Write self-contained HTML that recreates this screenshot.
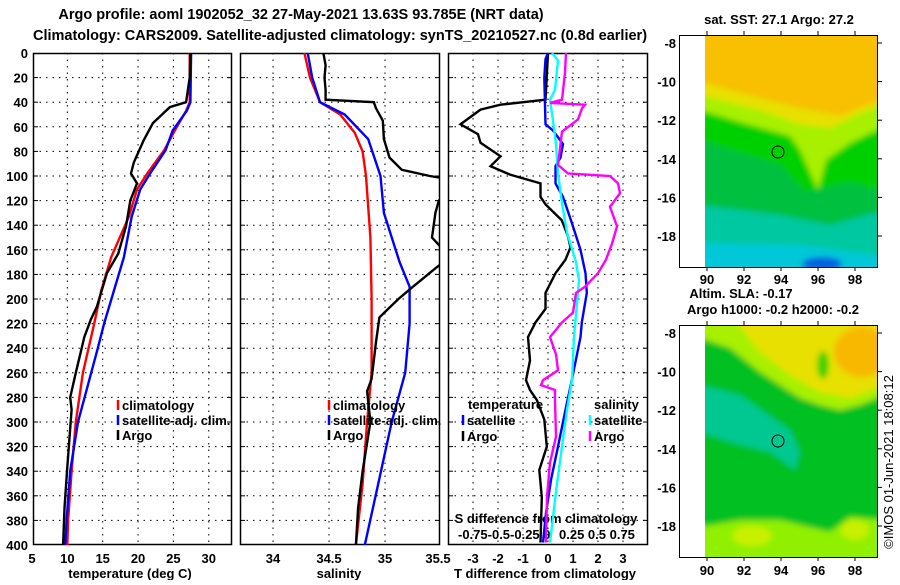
<!DOCTYPE html>
<html><head><meta charset="utf-8"><style>
body{margin:0;background:#fff}
svg text{font-family:"Liberation Sans",Arial,sans-serif;font-weight:bold;font-size:13px;fill:#000}
</style></head><body>
<svg id="c" width="900" height="580" viewBox="0 0 900 580" xmlns="http://www.w3.org/2000/svg">
<text x="301" y="19" text-anchor="middle" style="font-size:14.5px">Argo profile: aoml 1902052_32 27-May-2021 13.63S 93.785E (NRT data)</text>
<text x="340" y="40" text-anchor="middle" style="font-size:14.5px">Climatology: CARS2009. Satellite-adjusted climatology: synTS_20210527.nc (0.8d earlier)</text>
<g id="panels"></g>
<g id="maps">
 <defs>
  <clipPath id="m1"><rect x="705" y="35" width="173" height="232"/></clipPath>
  <clipPath id="m2"><rect x="705" y="325" width="173" height="232"/></clipPath>
  <filter id="bl"><feGaussianBlur stdDeviation="3"/></filter>
 </defs>
 <text x="779" y="24" text-anchor="middle">sat. SST: 27.1 Argo: 27.2</text>
 <g clip-path="url(#m1)"><g filter="url(#bl)">
  <rect x="700" y="30" width="185" height="245" fill="#f8c000"/>
  <polygon points="700,82 760,98 800,108 840,116 885,98 885,275 700,275" fill="#e8e000"/>
  <polygon points="700,95 760,110 800,124 830,128 860,113 885,103 885,275 700,275" fill="#a8f000"/>
  <polygon points="700,110 740,122 790,136 800,150 810,172 818,190 826,160 850,143 885,126 885,275 700,275" fill="#00d000"/>
  <polygon points="700,140 780,165 805,192 850,182 885,192 885,275 700,275" fill="#00c040"/>
  <polygon points="700,205 780,215 830,225 885,210 885,275 700,275" fill="#00c8a0"/>
  <polygon points="700,243 800,245 885,256 885,275 700,275" fill="#00c8d8"/>
  <ellipse cx="822" cy="264" rx="20" ry="7" fill="#0060e0"/>
 </g></g>
 <circle cx="778" cy="152" r="6" fill="none" stroke="#000"/>
 <rect x="679.5" y="35.5" width="198" height="232" fill="none" stroke="#000"/>
 <text x="741" y="298" text-anchor="middle">Altim. SLA: -0.17</text>
 <text x="773" y="314" text-anchor="middle">Argo h1000: -0.2 h2000: -0.2</text>
 <g clip-path="url(#m2)"><g filter="url(#bl)">
  <rect x="700" y="320" width="185" height="245" fill="#00c020"/>
  <polygon points="700,320 885,320 885,395 860,405 840,410 820,405 800,398 760,372 730,348 700,338" fill="#a8f000"/>
  <polygon points="735,320 885,320 885,385 850,398 820,392 790,375 760,352" fill="#e8e000"/>
  <ellipse cx="862" cy="352" rx="28" ry="25" fill="#f8b800"/>
  <ellipse cx="823" cy="365" rx="6" ry="14" fill="#40d000"/>
  <polygon points="700,385 740,395 790,430 800,452 795,470 770,452 730,442 700,432" fill="#00c890"/>
  <polygon points="700,527 740,520 780,520 830,532 850,517 885,520 885,565 700,565" fill="#90f000"/>
  <ellipse cx="752" cy="536" rx="20" ry="10" fill="#c8f000"/>
  <ellipse cx="855" cy="530" rx="14" ry="10" fill="#c8f000"/>
 </g></g>
 <circle cx="778" cy="441" r="6" fill="none" stroke="#000"/>
 <rect x="679.5" y="325.5" width="198" height="232" fill="none" stroke="#000"/>
 <text transform="translate(893,462) rotate(-90)" text-anchor="middle" style="font-weight:normal" font-size="13">©IMOS 01-Jun-2021 18:08:12</text>
</g>
<g id="mapaxes"></g>
</svg>
<script>
// ---- data (depth dbar, value) ----
const clmT_d=[0,40,47,63,79,98,111,133,166,193,220,260,300,340,380,400];
const clmT_v=[27.3,27.3,26.8,25.2,23.7,21.3,19.85,18.7,16.2,14.8,13.8,12.2,11.2,10.6,10.1,10.0];
const satT_d=[0,40,47,63,79,98,111,133,166,193,220,240,300,340,380,400];
const satT_v=[27.5,27.4,26.9,24.9,23.9,21.7,20.3,19.1,18.0,16.6,15.2,14.3,11.5,10.4,9.9,9.7];
const argT_d=[0,20,40,44,57,71,89,98,106,120,141,163,179,206,217,231,260,280,290,340,370,400];
const argT_v=[27.4,27.3,26.8,24.5,22.1,20.8,19.4,19.0,19.85,18.9,18.3,17.2,15.6,14.2,13.3,12.4,11.2,10.4,10.6,9.95,9.6,9.4];
const clmS_d=[0,20,40,50,65,80,100,150,200,260,300,350,400];
const clmS_v=[34.28,34.33,34.42,34.6,34.73,34.8,34.83,34.87,34.88,34.88,34.84,34.8,34.74];
const satS_d=[0,20,40,50,70,100,130,170,190,220,260,300,350,400];
const satS_v=[34.31,34.35,34.42,34.64,34.85,34.96,34.99,35.13,35.22,35.22,35.18,35.06,34.94,34.82];
const argS_d=[0,10,20,30,38,40,45,55,70,85,95,100,103,110,120,130,150,158,165,175,190,200,215,235,265,275,300,340,370,400];
const argS_v=[34.45,34.47,34.46,34.47,34.47,34.9,34.92,34.98,34.99,35.04,35.15,35.4,35.6,35.6,35.48,35.45,35.42,35.5,35.6,35.45,35.25,35.12,34.95,34.92,34.88,34.84,34.87,34.8,34.76,34.74];
const dT_sat_d=[0,5,20,58,63,74,85,92,106,117,138,160,179,195,219,231,266,290,320,347,374,398];
const dT_sat_v=[0,-0.1,-0.15,-0.1,0.2,0.6,0.5,0.3,0.3,0.6,0.95,1.3,1.5,1.55,1.35,1.3,0.95,0.7,0.4,0.12,-0.08,-0.2];
const dT_arg_d=[0,38,42,46,58,66,73,84,92,99,106,117,123,136,149,158,168,179,195,208,219,231,250,266,274,282,298,320,339,361,398];
const dT_arg_v=[0,-0.1,-1.9,-2.7,-3.5,-2.8,-2.7,-1.9,-2.3,-1.5,-0.3,-0.3,-0.1,0.55,0.8,0.9,0.7,0.3,-0.1,-0.1,-0.5,-0.8,-0.72,-0.88,-0.72,-0.45,-0.15,-0.05,-0.35,-0.25,-0.3];
const dS_sat_d=[0,6,30,38,55,74,98,122,146,170,185,231,266,290,320,350,398];
const dS_sat_v=[0.04,0.1,0.07,0.02,0.05,0.08,0.1,0.14,0.19,0.28,0.31,0.26,0.24,0.19,0.14,0.09,0.02];
const dS_arg_d=[0,16,38,40.6,42,45,54,64,91,98,100,106,114,125,141,155,168,179,190,195,211,219,231,245,258,266,270,274,282,312,333,361,398];
const dS_arg_v=[0.18,0.17,0.14,0.02,0.37,0.34,0.3,0.14,0.1,0.2,0.62,0.7,0.72,0.62,0.69,0.64,0.58,0.5,0.37,0.28,0.25,0.14,0.02,0.08,0.1,-0.05,-0.07,0.07,0.07,0.08,0.02,-0.01,-0.02];
const depthTicks=[0,20,40,60,80,100,120,140,160,180,200,220,240,260,280,300,320,340,360,380,400];
const tTicks=[5,10,15,20,25,30];
const sTicks=[34,34.5,35,35.5];
const dTTicks=[-3,-2,-1,0,1,2,3];
const dSTickLabels=["-0.75","-0.5","-0.25","0","0.25","0.5","0.75"];

const NS='http://www.w3.org/2000/svg';
const root=document.getElementById('panels');
function el(tag,attrs,parent,txt){const e=document.createElementNS(NS,tag);for(const k in attrs)e.setAttribute(k,attrs[k]);if(txt!==undefined)e.textContent=txt;(parent||root).appendChild(e);return e;}
const Y0=53,Y1=545;
const yD=d=>Y0+(d/400)*(Y1-Y0);
const xT=t=>32+(t-5)*7.07;
const xS=s=>273+(s-34)*112;
const xDT=t=>548+25*t;
const xDS=s=>548+100*s;

function panel(name,x0,x1,xTickPos){
  const g=el('g',{});
  
  
  const cp=el('clipPath',{id:'cp-'+name},g);el('rect',{x:x0,y:Y0,width:x1-x0,height:Y1-Y0},cp);
  depthTicks.forEach(d=>{if(d>0&&d<400){const l=el('line',{x1:x0,x2:x1,y1:yD(d),y2:yD(d),stroke:'#000','stroke-dasharray':'1.5,5'},g);
    
    
    el('line',{x1:x1-5,x2:x1,y1:yD(d),y2:yD(d),stroke:'#000'},g);el('line',{x1:x0,x2:x0+5,y1:yD(d),y2:yD(d),stroke:'#000'},g);}});
  xTickPos.forEach(x=>{if(x>x0+2&&x<x1-2){const l=el('line',{x1:x,x2:x,y1:Y0,y2:Y1,stroke:'#000','stroke-dasharray':'1.5,5'},g);
    
    }});
  const f=el('rect',{x:x0+0.5,y:Y0+0.5,width:x1-x0-1,height:Y1-Y0-1,fill:'none',stroke:'#000','stroke-width':1.5},g);
  
  
  return g;
}
function line(g,name,ds,vs,xf,color,clipId){
  let p=ds.map((d,i)=>xf(vs[i]).toFixed(1)+','+yD(d).toFixed(1)).join(' ');
  const l=el('polyline',{points:p,fill:'none',stroke:color,'stroke-width':2.4,'clip-path':'url(#'+clipId+')'},g);
  
  
}
function legend(g,x,y,color,label,name){
  const m=el('line',{x1:x,x2:x,y1:y-10,y2:y,stroke:color,'stroke-width':2.5},g);
  
  
  const t=el('text',{x:x+4,y:y},g,label);
  
  
}
// Panel 1
const g1=panel('temperature-panel',33,232,tTicks.map(xT));
depthTicks.forEach(d=>{const t=el('text',{x:28,y:yD(d)+5,'text-anchor':'end'},g1,String(d));
  
  });
tTicks.forEach(v=>{const t=el('text',{x:xT(v),y:563,'text-anchor':'middle'},g1,String(v));
  
  });
{const t=el('text',{x:130,y:578,'text-anchor':'middle'},g1,'temperature (deg C)');
  
  }
line(g1,'climatology-temperature-line',clmT_d,clmT_v,xT,'#f00','cp-temperature-panel');
line(g1,'satellite-temperature-line',satT_d,satT_v,xT,'#00f','cp-temperature-panel');
line(g1,'argo-temperature-line',argT_d,argT_v,xT,'#000','cp-temperature-panel');
legend(g1,118,410,'#f00','climatology','legend-climatology');
legend(g1,118,425,'#00f','satellite-adj. clim.','legend-satellite');
legend(g1,118,440,'#000','Argo','legend-argo');
// Panel 2
const g2=panel('salinity-panel',240,440,sTicks.map(xS));
sTicks.forEach(v=>{const t=el('text',{x:Math.min(xS(v),438),y:563,'text-anchor':'middle'},g2,String(v));
  
  });
{const t=el('text',{x:339,y:578,'text-anchor':'middle'},g2,'salinity');
  
  }
line(g2,'climatology-salinity-line',clmS_d,clmS_v,xS,'#f00','cp-salinity-panel');
line(g2,'satellite-salinity-line',satS_d,satS_v,xS,'#00f','cp-salinity-panel');
line(g2,'argo-salinity-line',argS_d,argS_v,xS,'#000','cp-salinity-panel');
legend(g2,329,410,'#f00','climatology','legend-climatology-s');
legend(g2,329,425,'#00f','satellite-adj. clim.','legend-satellite-s');
legend(g2,329,440,'#000','Argo','legend-argo-s');
// Panel 3
const g3=panel('difference-panel',448,648,dTTicks.map(xDT));
dTTicks.forEach(v=>{const t=el('text',{x:xDT(v),y:563,'text-anchor':'middle'},g3,String(v));
  
  });
{const t=el('text',{x:545,y:578,'text-anchor':'middle'},g3,'T difference from climatology');
  
  }
{const t=el('text',{x:546,y:523,'text-anchor':'middle'},g3,'S difference from climatology');
  
  }
{const t=el('text',{x:458,y:539},g3,dSTickLabels.slice(0,3).join('')+' '+dSTickLabels[3]);
  
  
 const t2=el('text',{x:559,y:539},g3,dSTickLabels.slice(4).join(' '));
  
  }
line(g3,'argo-t-diff-line',dT_arg_d,dT_arg_v,xDT,'#000','cp-difference-panel');
line(g3,'satellite-t-diff-line',dT_sat_d,dT_sat_v,xDT,'#00f','cp-difference-panel');
line(g3,'satellite-s-diff-line',dS_sat_d,dS_sat_v,xDS,'#0ff','cp-difference-panel');
line(g3,'argo-s-diff-line',dS_arg_d,dS_arg_v,xDS,'#f0f','cp-difference-panel');
{const t=el('text',{x:468,y:409},g3,'temperature');}
{const t=el('text',{x:594,y:409},g3,'salinity');}
legend(g3,463,425,'#00f','satellite','legend-t-satellite');
legend(g3,463,441,'#000','Argo','legend-t-argo');
legend(g3,590,425,'#0ff','satellite','legend-s-satellite');
legend(g3,590,441,'#f0f','Argo','legend-s-argo');
// map axes
const ma=document.getElementById('mapaxes');
const lonTicks=[90,92,94,96,98], latTicks=[-8,-10,-12,-14,-16,-18];
const xLon=l=>707+(l-90)*18.5;
[[35,267,284,43,19.3],[325,557,575,333,19.3]].forEach((m,mi)=>{
  lonTicks.forEach(l=>{el('line',{x1:xLon(l),x2:xLon(l),y1:m[0]-4,y2:m[0],stroke:'#000'},ma);
    el('line',{x1:xLon(l),x2:xLon(l),y1:m[1],y2:m[1]+4,stroke:'#000'},ma);
    const t=el('text',{x:xLon(l),y:m[2],'text-anchor':'middle'},ma,String(l));
    
    });
  latTicks.forEach(a=>{const y=m[3]+(-8-a)*m[4];
    el('line',{x1:878,x2:882,y1:y,y2:y,stroke:'#000'},ma);
    const t=el('text',{x:676,y:y+5,'text-anchor':'end'},ma,String(a));
    
    });
});
</script>
</body></html>
